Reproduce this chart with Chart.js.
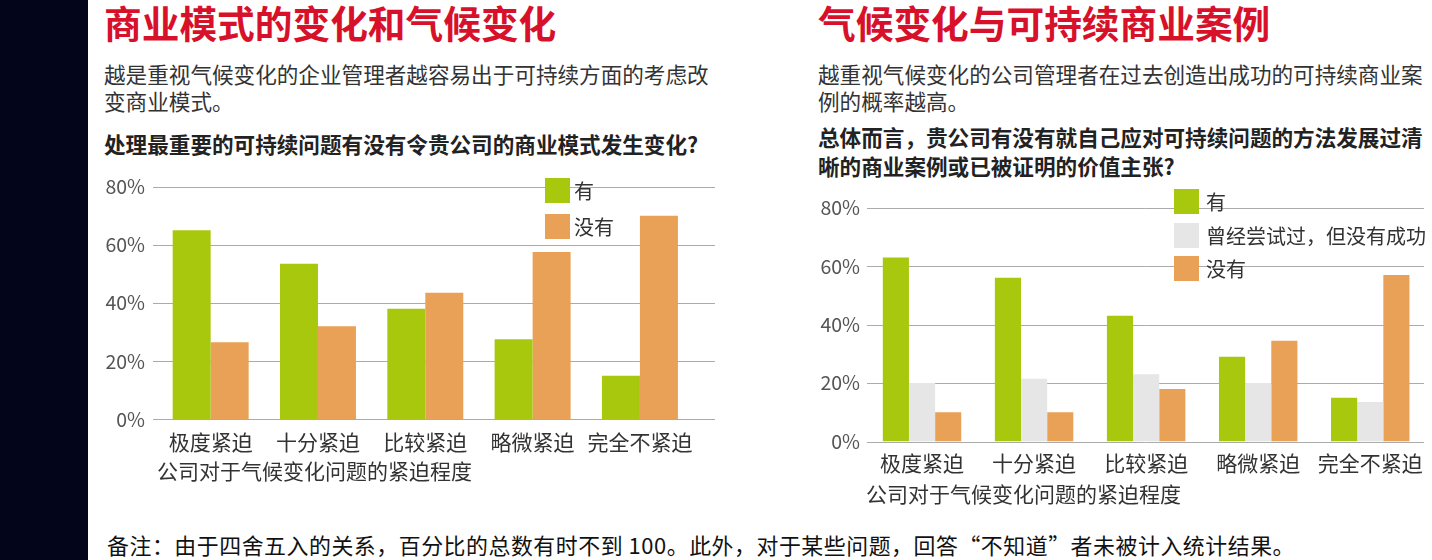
<!DOCTYPE html>
<html>
<head>
<meta charset="utf-8">
<script src="https://cdn.jsdelivr.net/npm/chart.js@4/dist/chart.umd.min.js"></script>
<style>
  body { margin: 0; width: 1432px; height: 560px; background: #fff; position: relative; overflow: hidden;
         font-family: "Noto Sans CJK SC", sans-serif; color: #333; }
  .strip { position: absolute; left: 0; top: 0; width: 88px; height: 560px; background: #03051a; }
  .abs { position: absolute; white-space: nowrap; }
  .title { font-size: 37.7px; font-weight: 700; color: #d8112b; line-height: 44px; }
  .sub { font-size: 21.6px; line-height: 27px; color: #333; }
  .q { font-size: 21.6px; font-weight: 700; line-height: 29px; color: #222; }
  .legend-item { position: absolute; display: flex; align-items: center; font-size: 20px; color: #333; white-space: nowrap; }
  .legend-item .box { width: 25px; height: 25px; }
  .chart-wrap { position: absolute; }
  .footer { font-size: 21.9px; line-height: 28px; color: #111; letter-spacing: 0.55px; }
</style>
</head>
<body>
<div class="strip"></div>

<div class="abs title" style="left:104px;top:0px;">商业模式的变化和气候变化</div>
<div class="abs sub" style="left:104px;top:60px;">越是重视气候变化的企业管理者越容易出于可持续方面的考虑改<br>变商业模式。</div>
<div class="abs q" style="left:104px;top:129px;">处理最重要的可持续问题有没有令贵公司的商业模式发生变化?</div>

<div class="abs title" style="left:818px;top:0px;">气候变化与可持续商业案例</div>
<div class="abs sub" style="left:818px;top:60px;">越重视气候变化的公司管理者在过去创造出成功的可持续商业案<br>例的概率越高。</div>
<div class="abs q" style="left:818px;top:122px;">总体而言，贵公司有没有就自己应对可持续问题的方法发展过清<br>晰的商业案例或已被证明的价值主张?</div>

<div class="chart-wrap" style="left:100px;top:160px;width:620px;height:340px;"><canvas id="leftChart"></canvas></div>
<div class="chart-wrap" style="left:800px;top:190px;width:632px;height:320px;"><canvas id="rightChart"></canvas></div>

<div id="leftLegend"></div>
<div id="rightLegend"></div>

<div class="abs footer" style="left:107px;top:531px;">备注：由于四舍五入的关系，百分比的总数有时不到 100。此外，对于某些问题，回答“不知道”者未被计入统计结果。</div>

<script>
// data
const categories = ["极度紧迫", "十分紧迫", "比较紧迫", "略微紧迫", "完全不紧迫"];
const yTicks = [0, 20, 40, 60, 80];
const axisTitle = "公司对于气候变化问题的紧迫程度";

const leftSeries = ["有", "没有"];
const leftYes = [65, 53.5, 38, 27.5, 15];
const leftNo = [26.5, 32, 43.5, 57.5, 70];

const rightSeries = ["有", "曾经尝试过，但没有成功", "没有"];
const rightYes = [63, 56, 43, 29, 15];
const rightTried = [20, 21.5, 23, 20, 13.5];
const rightNo = [10, 10, 18, 34.5, 57];

const GREEN = "#a8c80e";
const GREY = "#e6e6e6";
const ORANGE = "#e9a157";
const FONT = "'Noto Sans CJK SC', sans-serif";

// gridlines that run past the bar area, like the print layout
const extendedGrid = {
  id: "extendedGrid",
  beforeDatasetsDraw(chart, args, opts) {
    const { ctx, scales: { y } } = chart;
    ctx.save();
    ctx.strokeStyle = opts.color;
    ctx.lineWidth = 1;
    y.ticks.forEach((t) => {
      const py = Math.round(y.getPixelForValue(t.value)) + 0.5;
      ctx.beginPath();
      ctx.moveTo(opts.from, py);
      ctx.lineTo(opts.to, py);
      ctx.stroke();
    });
    ctx.restore();
  },
};

function makeChart(id, datasets, cfg) {
  return new Chart(document.getElementById(id), {
    type: "bar",
    data: { labels: categories, datasets },
    options: {
      responsive: true,
      maintainAspectRatio: false,
      animation: false,
      layout: { padding: cfg.padding },
      datasets: { bar: { categoryPercentage: cfg.catPct, barPercentage: 1, borderWidth: 0 } },
      plugins: {
        legend: { display: false },
        tooltip: { enabled: false },
        extendedGrid: { color: "#ababab", from: cfg.gridFrom, to: cfg.gridTo },
      },
      scales: {
        x: {
          grid: { display: false, drawTicks: false },
          border: { display: false },
          ticks: { color: "#333", font: { family: FONT, size: 21 }, padding: cfg.xPad, maxRotation: 0, autoSkip: false },
          title: { display: true, text: axisTitle, align: "start", color: "#333",
                   font: { family: FONT, size: 21 }, padding: { top: 0, bottom: cfg.titlePad } },
          afterFit: (s) => { s.height = cfg.xHeight; },
        },
        y: {
          min: 0,
          max: 80,
          grid: { display: false, drawTicks: false },
          border: { display: false },
          afterBuildTicks: (s) => { s.ticks = yTicks.map((v) => ({ value: v })); },
          ticks: { color: "#555", font: { family: FONT, size: 19.5 }, padding: cfg.yPad, callback: (v) => v + "%" },
          afterFit: (s) => { s.width = cfg.yWidth; },
        },
      },
    },
    plugins: [extendedGrid],
  });
}

function buildLegend(elId, names, colors, left, tops, gap) {
  const el = document.getElementById(elId);
  names.forEach((name, i) => {
    const item = document.createElement("div");
    item.className = "legend-item";
    item.style.left = left + "px";
    item.style.top = tops[i] + "px";
    item.innerHTML = `<span class="box" style="background:${colors[i]};margin-right:${gap}px"></span><span>${name}</span>`;
    el.appendChild(item);
  });
}

makeChart("leftChart", [
  { label: leftSeries[0], data: leftYes, backgroundColor: GREEN },
  { label: leftSeries[1], data: leftNo, backgroundColor: ORANGE },
], { padding: { top: 26.7, right: 26.4, left: 0, bottom: 0 }, catPct: 0.708, gridFrom: 53, gridTo: 615,
     xPad: 10, xHeight: 80.7, titlePad: 16, yPad: 12, yWidth: 57 });

makeChart("rightChart", [
  { label: rightSeries[0], data: rightYes, backgroundColor: GREEN },
  { label: rightSeries[1], data: rightTried, backgroundColor: GREY },
  { label: rightSeries[2], data: rightNo, backgroundColor: ORANGE },
], { padding: { top: 17.5, right: 2.5, left: 0, bottom: 0 }, catPct: 0.70, gridFrom: 67, gridTo: 624,
     xPad: 9, xHeight: 68.5, titlePad: 3.5, yPad: 6, yWidth: 66 });

buildLegend("leftLegend", leftSeries, [GREEN, ORANGE], 545, [176, 212], 4);
buildLegend("rightLegend", rightSeries, [GREEN, GREY, ORANGE], 1174, [187, 221, 254], 7);
</script>
</body>
</html>
